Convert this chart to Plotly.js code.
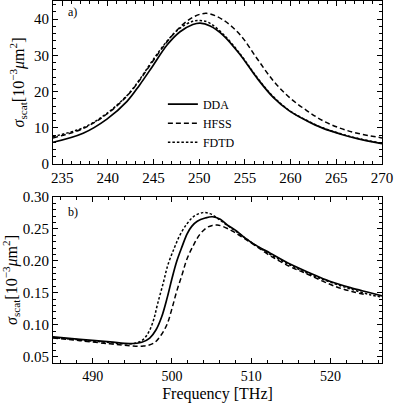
<!DOCTYPE html>
<html>
<head>
<meta charset="utf-8">
<script src="https://cdn.plot.ly/plotly-3.0.1.min.js"></script>
<style>
  html, body { margin: 0; padding: 0; background: #fff; }
  #chart { width: 394px; height: 403px; }
</style>
</head>
<body>
<div id="chart"></div>
<script>
// ── panel a) : low-frequency resonance, sigma_scat in 1e-3 um^2 ──
const fA_dda  = [234.0, 237.3, 239.9, 242.1, 243.5, 244.9, 246.5, 247.9, 249.3, 250.1, 251.2, 252.6, 254.5, 256.3, 258.1, 259.9, 261.8, 263.5, 265.4, 267.3, 270.0];
const sA_dda  = [6.0, 8.5, 12.4, 17.3, 21.9, 27.0, 32.9, 36.5, 38.5, 38.9, 38.1, 35.6, 30.1, 23.8, 18.4, 14.6, 11.9, 9.9, 8.3, 7.0, 5.6];

const fA_hfss = [234.0, 237.3, 239.9, 242.1, 243.5, 244.9, 246.5, 247.9, 249.3, 250.8, 252.6, 254.5, 256.3, 258.1, 259.9, 261.8, 263.5, 265.4, 267.3, 270.0];
const sA_hfss = [7.2, 9.8, 13.8, 18.8, 23.2, 28.3, 33.8, 37.8, 40.5, 41.6, 39.8, 35.6, 29.2, 23.0, 18.3, 14.7, 12.0, 9.9, 8.5, 7.2];

const fA_fdtd = [234.0, 237.3, 239.9, 242.1, 243.5, 244.9, 246.5, 247.9, 249.3, 250.1, 251.0, 252.6, 254.5, 256.3, 258.1, 259.9, 261.8, 263.5, 265.4, 267.3, 270.0];
const sA_fdtd = [7.6, 10.0, 14.0, 18.9, 23.4, 28.6, 34.0, 37.5, 39.4, 39.6, 39.1, 35.9, 30.3, 24.0, 18.6, 14.7, 12.0, 10.0, 8.4, 7.1, 5.7];

// ── panel b) : high-frequency resonance ──
const fB_dda  = [485.0, 488.4, 492.2, 494.7, 496.2, 497.2, 498.0, 498.7, 499.4, 500.0, 500.6, 501.3, 501.9, 502.5, 503.2, 504.2, 505.1, 506.1, 506.9, 508.0, 509.0, 510.5, 512.4, 514.9, 517.4, 519.9, 522.5, 525.0, 526.5];
const sB_dda  = [0.081, 0.077, 0.073, 0.0705, 0.0725, 0.079, 0.092, 0.112, 0.142, 0.172, 0.199, 0.223, 0.242, 0.254, 0.262, 0.267, 0.269, 0.265, 0.257, 0.248, 0.238, 0.225, 0.212, 0.195, 0.181, 0.168, 0.158, 0.150, 0.145];

const fB_hfss = [485.0, 488.4, 492.2, 494.7, 496.4, 497.7, 498.6, 499.4, 500.0, 500.6, 501.3, 501.9, 502.7, 503.5, 504.4, 505.1, 505.7, 506.4, 507.7, 509.0, 510.5, 512.4, 514.9, 516.5, 518.7, 520.8, 522.7, 524.6];
const sB_hfss = [0.079, 0.075, 0.070, 0.067, 0.0665, 0.071, 0.083, 0.101, 0.125, 0.152, 0.179, 0.203, 0.224, 0.241, 0.252, 0.2555, 0.256, 0.254, 0.246, 0.236, 0.224, 0.208, 0.191, 0.1825, 0.170, 0.159, 0.152, 0.1465];

const fB_fdtd = [485.0, 488.4, 492.2, 494.1, 495.5, 496.4, 497.1, 497.7, 498.2, 498.9, 499.5, 500.3, 501.0, 501.9, 502.8, 503.9, 504.8, 505.7, 506.7, 508.0, 509.2, 510.5, 512.4, 514.9, 517.4, 519.9, 522.5, 525.0, 526.5];
const sB_fdtd = [0.080, 0.076, 0.072, 0.070, 0.0715, 0.077, 0.089, 0.108, 0.133, 0.165, 0.194, 0.220, 0.240, 0.258, 0.270, 0.2755, 0.274, 0.267, 0.258, 0.247, 0.236, 0.225, 0.210, 0.1935, 0.179, 0.167, 0.156, 0.147, 0.143];

const FONT = "'Liberation Serif', 'Times New Roman', Times, serif";
const ink  = '#000000';

const styles = {
    DDA:  { color: ink, width: 1.7 },
    HFSS: { color: ink, width: 1.5, dash: '5px,3px' },
    FDTD: { color: ink, width: 1.5, dash: '2.5px,2px' },
};

const linea = (name, x, y, xa, ya, rank, legend) => ({
    type: 'scatter', mode: 'lines', name,
    x, y, xaxis: xa, yaxis: ya,
    line: Object.assign({ shape: 'spline', smoothing: 1 }, styles[name]),
    showlegend: legend, legendrank: rank,
    hoverinfo: 'skip',
});

const traces = [
    linea('FDTD', fA_fdtd, sA_fdtd, 'x',  'y',  3, true),
    linea('HFSS', fA_hfss, sA_hfss, 'x',  'y',  2, true),
    linea('DDA',  fA_dda,  sA_dda,  'x',  'y',  1, true),
    linea('FDTD', fB_fdtd, sB_fdtd, 'x2', 'y2', 3, false),
    linea('HFSS', fB_hfss, sB_hfss, 'x2', 'y2', 2, false),
    linea('DDA',  fB_dda,  sB_dda,  'x2', 'y2', 1, false),
];

// common frame: box with inward major + minor ticks on every side
const marco = (extra) => Object.assign({
    showgrid: false, zeroline: false,
    showline: true, linecolor: ink, linewidth: 1, mirror: 'allticks',
    ticks: 'inside', ticklen: 5, tickwidth: 1, tickcolor: ink,
    tickfont: { family: FONT, size: 15, color: ink },
    fixedrange: true,
}, extra);

const yTitle = '<i>σ</i><sub>scat</sub>[10<sup>−3</sup><i>μ</i>m<sup>2</sup>]';

const layout = {
    width: 394, height: 403,
    margin: { l: 53, r: 12, t: 1, b: 40 },
    paper_bgcolor: '#ffffff', plot_bgcolor: '#ffffff',
    font: { family: FONT, color: ink },
    showlegend: true,
    legend: {
        x: 0.334, xanchor: 'left', y: 0.755, yanchor: 'top',
        bgcolor: 'rgba(0,0,0,0)', borderwidth: 0,
        font: { family: FONT, size: 12, color: ink },
        itemwidth: 30,
    },
    xaxis: marco({
        domain: [0, 1], anchor: 'y', range: [234, 270],
        dtick: 5, tick0: 0,
        minor: { dtick: 1, ticklen: 3, tickcolor: ink, ticks: 'inside' },
    }),
    yaxis: marco({
        domain: [0.5497, 1], anchor: 'x', range: [0, 45],
        dtick: 10, tick0: 0,
        minor: { dtick: 2, ticklen: 3, tickcolor: ink, ticks: 'inside' },
        title: { text: yTitle, font: { family: FONT, size: 16, color: ink }, standoff: 5 },
    }),
    xaxis2: marco({
        domain: [0, 1], anchor: 'y2', range: [485, 526.5],
        dtick: 10, tick0: 0,
        tickfont: { family: FONT, size: 14, color: ink },
        minor: { dtick: 2, ticklen: 3, tickcolor: ink, ticks: 'inside' },
        title: { text: 'Frequency [THz]', font: { family: FONT, size: 16, color: ink }, standoff: 5 },
    }),
    yaxis2: marco({
        domain: [0, 0.4586], anchor: 'x2', range: [0.04, 0.30],
        dtick: 0.05, tick0: 0, tickformat: '.2f',
        minor: { dtick: 0.01, ticklen: 3, tickcolor: ink, ticks: 'inside' },
        title: { text: yTitle, font: { family: FONT, size: 16, color: ink }, standoff: 4 },
    }),
    annotations: [
        { text: 'a)', xref: 'x domain', yref: 'y domain', x: 0.04, y: 0.93,
          xanchor: 'left', yanchor: 'middle', showarrow: false,
          font: { family: FONT, size: 12, color: ink } },
        { text: 'b)', xref: 'x2 domain', yref: 'y2 domain', x: 0.04, y: 0.91,
          xanchor: 'left', yanchor: 'middle', showarrow: false,
          font: { family: FONT, size: 12, color: ink } },
    ],
};

Plotly.newPlot('chart', traces, layout, { staticPlot: true, displayModeBar: false });
</script>
</body>
</html>
